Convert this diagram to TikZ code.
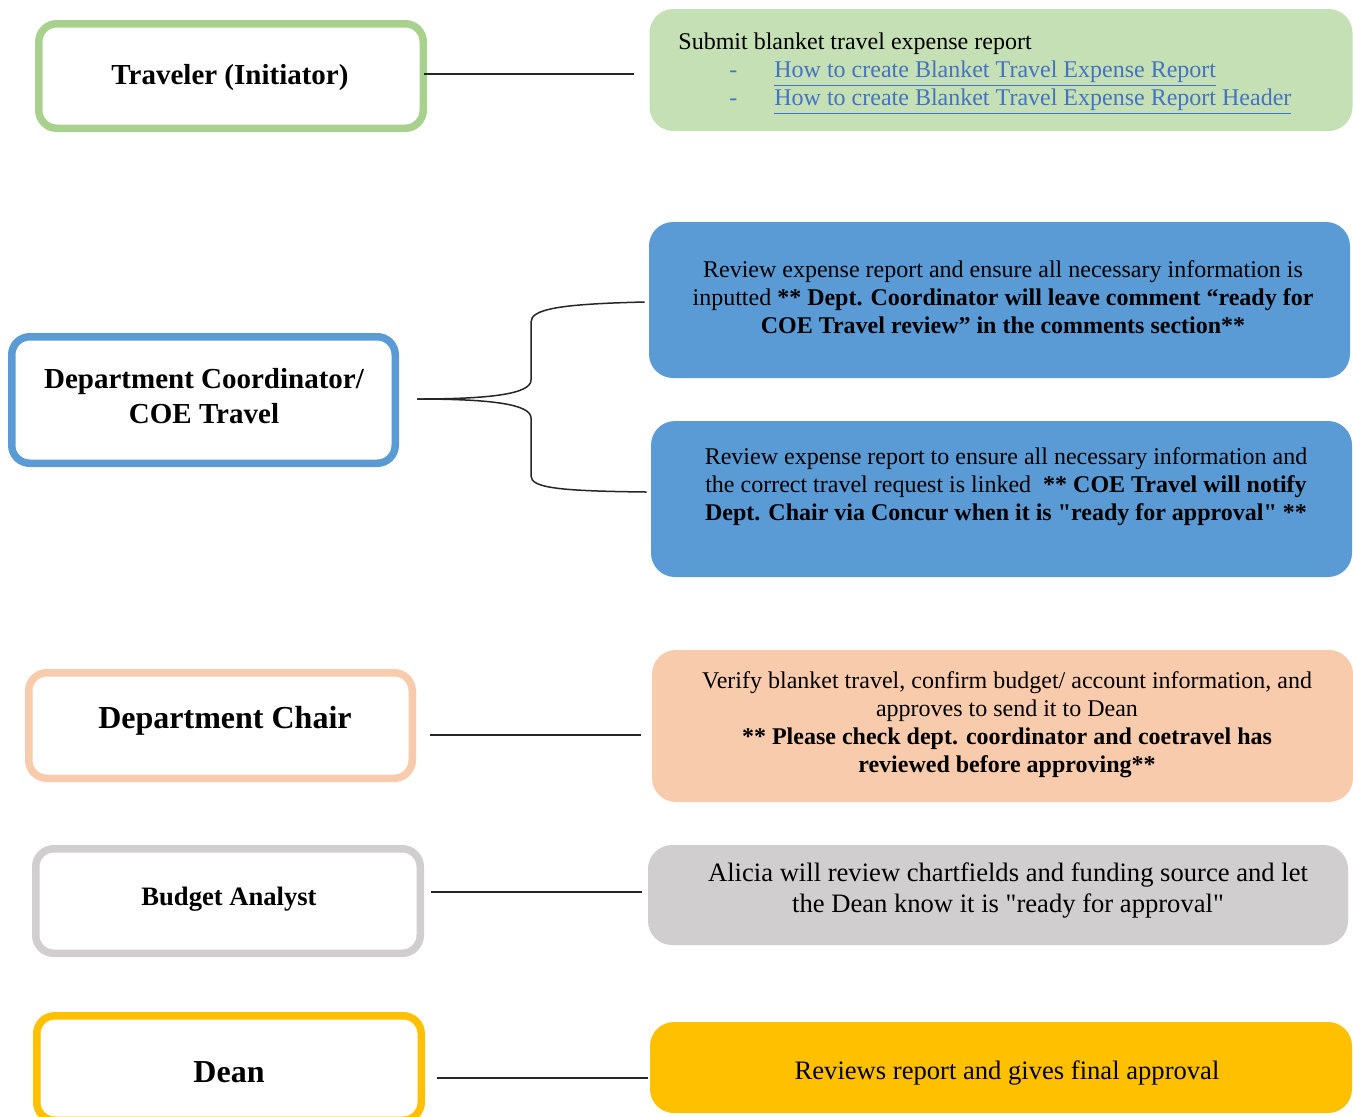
\documentclass[tikz,border=0pt]{standalone}
\usepackage{fontspec}
\setmainfont{Liberation Serif}[Ligatures=TeXOff]
\definecolor{greenB}{HTML}{A9D18E}
\definecolor{greenF}{HTML}{C5E0B4}
\definecolor{blueC}{HTML}{5B9BD5}
\definecolor{peachC}{HTML}{F8CBAD}
\definecolor{grayC}{HTML}{D0CECE}
\definecolor{yellowC}{HTML}{FFC000}
\definecolor{linkC}{HTML}{4472C4}
\newcommand{\lnk}[1]{\textcolor{linkC}{\setlength{\fboxsep}{0pt}\underline{#1}}}
\begin{document}
\begin{tikzpicture}[x=0.5pt,y=-0.5pt,
  role/.style={draw=#1, line width=3.75pt, rounded corners=9pt, fill=white, inner sep=0pt},
  task/.style={fill=#1, draw=none, rounded corners=12pt, inner sep=0pt},
  lbl/.style={inner sep=0pt, align=center, font=\bfseries\fontsize{14.5}{17.5}\selectfont},
  txt/.style={inner sep=0pt, align=center, font=\fontsize{12}{14}\selectfont},
  conn/.style={draw=black!85, line width=0.75pt}]
\useasboundingbox (0,0) rectangle (1353,1116);
\fill[white] (0,0) rectangle (1353,1116);

% left role boxes
\node[role=greenB, minimum width=192.25pt, minimum height=52.25pt] (tr) at (231,76) {};
\node[role=blueC, minimum width=191.75pt, minimum height=63.25pt] (dc) at (203.5,400) {};
\node[role=peachC, minimum width=191.75pt, minimum height=52.75pt] (ch) at (220.5,725.5) {};
\node[role=grayC, minimum width=192.25pt, minimum height=52.25pt] (ba) at (228,901) {};
\node[role=yellowC, minimum width=192.25pt, minimum height=52.25pt] (dn) at (229,1068) {};

\node[lbl] (trt) at (230,78) {Traveler (Initiator)};
\node[lbl] (dct) at (204,396) {Department Coordinator/\\COE Travel};
\node[lbl, font=\bfseries\fontsize{16}{19}\selectfont] (cht) at (225,721) {Department Chair};
\node[lbl, font=\bfseries\fontsize{13.3}{16}\selectfont] (bat) at (229,899) {Budget Analyst};
\node[lbl, font=\bfseries\fontsize{16}{19}\selectfont] (dnt) at (229,1072) {Dean};

% right task boxes
\node[task=greenF, minimum width=351.5pt, minimum height=61pt] (gr) at (1001,70) {};
\node[task=blueC, minimum width=350.5pt, minimum height=78pt] (b1) at (999.5,300) {};
\node[task=blueC, minimum width=350.5pt, minimum height=78pt] (b2) at (1001.5,499) {};
\node[task=peachC, minimum width=350.5pt, minimum height=76pt] (pc) at (1002.5,726) {};
\node[task=grayC, minimum width=350pt, minimum height=50pt] (gy) at (998,895) {};
\node[task=yellowC, minimum width=351pt, minimum height=45.5pt] (yl) at (1001,1067.5) {};

\node[txt, align=left, anchor=west] (grt) at (678,74) {Submit blanket travel expense report\\
\hspace*{25.5pt}\makebox[22.5pt][l]{\textcolor{linkC}{-}}\lnk{How to create Blanket Travel Expense Report}\\
\hspace*{25.5pt}\makebox[22.5pt][l]{\textcolor{linkC}{-}}\lnk{How to create Blanket Travel Expense Report Header}};

\node[txt] (b1t) at (1003,297) {Review expense report and ensure all necessary information is\\
inputted \textbf{** Dept. Coordinator will leave comment “ready for}\\
\textbf{COE Travel review” in the comments section**}};

\node[txt] (b2t) at (1006,487) {Review expense report to ensure all necessary information and\\
the correct travel request is linked\ \ \textbf{** COE Travel will notify}\\
\textbf{Dept. Chair via Concur when it is "ready for approval"\ **}};

\node[txt] (pct) at (1007,725) {Verify blanket travel, confirm budget/ account information, and\\
approves to send it to Dean\\
\textbf{** Please check dept. coordinator and coetravel has}\\
\textbf{reviewed before approving**}};

\node[txt, font=\fontsize{13.3}{15.5}\selectfont] (gyt) at (1008,890.5) {Alicia will review chartfields and funding source and let\\
the Dean know it is "ready for approval"};

\node[txt, font=\fontsize{13.3}{15.5}\selectfont] (ylt) at (1007,1073) {Reviews report and gives final approval};

% connectors
\coordinate (c1a) at ([xshift=-1.5pt,yshift=1pt]tr.east);
\coordinate (c1b) at ([xshift=-7.5pt]gr.west);
\draw[conn] (c1a) -- (c1a -| c1b);

\coordinate (bs) at ([xshift=9pt,yshift=0.5pt]dc.east);
\coordinate (bu) at ([xshift=-2pt,yshift=-1pt]b1.west);
\coordinate (bl) at ([xshift=-2pt,yshift=3.5pt]b2.west);
\draw[conn] (bs) .. controls (490,399) and (531,394) .. (531,380) -- (531,322)
  .. controls (531,309) and (560,304) .. (bu);
\draw[conn] (bs) .. controls (490,399) and (531,404) .. (531,418) -- (531,476)
  .. controls (531,488) and (560,491) .. (bl);

\coordinate (c3a) at ([xshift=7pt,yshift=-4.75pt]ch.east);
\coordinate (c3b) at ([xshift=-5.5pt]pc.west);
\draw[conn] (c3a) -- (c3a -| c3b);

\coordinate (c4a) at ([xshift=3.5pt,yshift=4.5pt]ba.east);
\coordinate (c4b) at ([xshift=-3pt]gy.west);
\draw[conn] (c4a) -- (c4a -| c4b);

\coordinate (c5a) at ([xshift=6pt,yshift=-5pt]dn.east);
\coordinate (c5b) at ([xshift=-1pt]yl.west);
\draw[conn] (c5a) -- (c5a -| c5b);
\end{tikzpicture}
\end{document}
